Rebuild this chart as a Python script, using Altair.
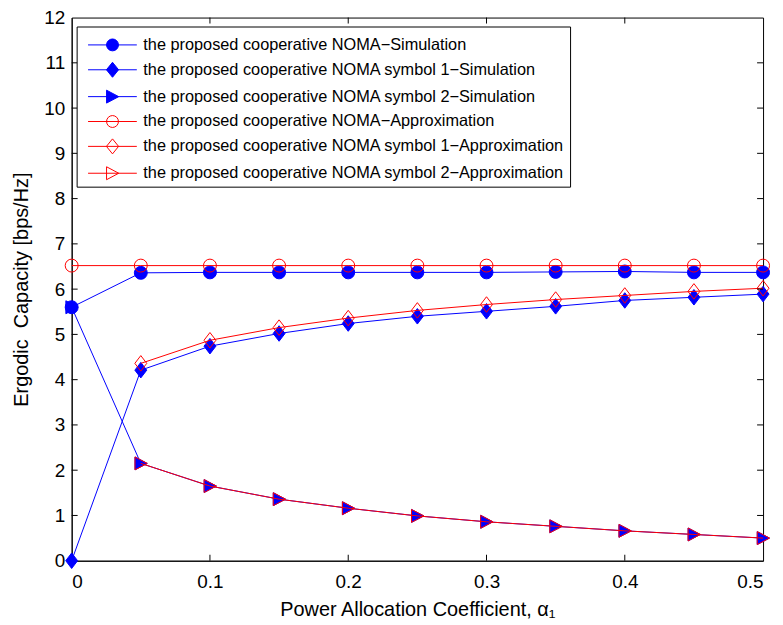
import altair as alt
import pandas as pd

# ---------------- data ----------------
alpha = [0, 0.05, 0.1, 0.15, 0.2, 0.25, 0.3, 0.35, 0.4, 0.45, 0.5]

total_sim = [5.60, 6.36, 6.37, 6.37, 6.37, 6.37, 6.37, 6.38, 6.39, 6.37, 6.37]
sym1_sim = [0.0, 4.21, 4.74, 5.02, 5.24, 5.40, 5.51, 5.62, 5.75, 5.82, 5.89]
sym2_sim = [5.60, 2.15, 1.65, 1.36, 1.16, 0.99, 0.86, 0.76, 0.66, 0.58, 0.50]
total_app = [6.52, 6.52, 6.52, 6.52, 6.52, 6.52, 6.52, 6.52, 6.52, 6.52, 6.52]
sym1_app = [None, 4.36, 4.87, 5.15, 5.36, 5.53, 5.66, 5.77, 5.86, 5.95, 6.02]
sym2_app = [None, 2.15, 1.65, 1.36, 1.16, 0.99, 0.86, 0.76, 0.66, 0.58, 0.50]

series_names = [
    "the proposed cooperative NOMA\u2212Simulation",
    "the proposed cooperative NOMA symbol 1\u2212Simulation",
    "the proposed cooperative NOMA symbol 2\u2212Simulation",
    "the proposed cooperative NOMA\u2212Approximation",
    "the proposed cooperative NOMA symbol 1\u2212Approximation",
    "the proposed cooperative NOMA symbol 2\u2212Approximation",
]
series_values = [total_sim, sym1_sim, sym2_sim, total_app, sym1_app, sym2_app]
series_colors = ["#0000ff", "#0000ff", "#0000ff", "#ff0000", "#ff0000", "#ff0000"]
series_fills = ["#0000ff", "#0000ff", "#0000ff", "transparent", "transparent", "transparent"]

x_ticks = [0, 0.1, 0.2, 0.3, 0.4, 0.5]
y_ticks = [0, 1, 2, 3, 4, 5, 6, 7, 8, 9, 10, 11, 12]
x_inner_ticks = [0.1, 0.2, 0.3, 0.4]
y_inner_ticks = [1, 2, 3, 4, 5, 6, 7, 8, 9, 10, 11]

# marker shapes (plot) and line+marker glyphs (legend)
plot_shapes = [
    "circle",
    "M0,-1.2L0.92,0L0,1.2L-0.92,0Z",
    "M-0.9,-1L1.0,0L-0.9,1Z",
    "circle",
    "M0,-1.2L0.92,0L0,1.2L-0.92,0Z",
    "M-0.9,-1L1.0,0L-0.9,1Z",
]
LINE = "M-0.54,0H3.23"
CIRC = "M1.81,0A0.46,0.46,0,1,1,0.89,0A0.46,0.46,0,1,1,1.81,0Z"
DIAM = "M1.35,-0.58L1.82,0L1.35,0.58L0.88,0Z"
TRI = "M0.89,-0.5L1.83,0L0.89,0.5Z"
legend_paths = [LINE + CIRC, LINE + DIAM, LINE + TRI, LINE + CIRC, LINE + DIAM, LINE + TRI]

rows = []
for name, vals in zip(series_names, series_values):
    for a, v in zip(alpha, vals):
        if v is not None:
            rows.append({"series": name, "alpha": a, "value": v})
df = pd.DataFrame(rows)

FONT = "Liberation Sans"
W, H = 695, 546

xscale = alt.Scale(domain=[0, 0.5], nice=False, zero=False)
yscale = alt.Scale(domain=[0, 12], nice=False)

x_axis = alt.Axis(values=x_ticks, format=".1~f", ticks=False, grid=False,
                  labelFontSize=19, labelPadding=12, labelFont=FONT,
                  title="Power Allocation Coefficient, \u03b1\u2081",
                  titleFontSize=20, titleFont=FONT, titleFontWeight="normal",
                  titlePadding=8, domainColor="black", labelColor="black",
                  titleColor="black")
y_axis = alt.Axis(values=y_ticks, format="d", ticks=False, grid=False,
                  labelFontSize=19, labelPadding=7, labelFont=FONT,
                  title="Ergodic\u00a0 Capacity [bps/Hz]",
                  titleFontSize=20, titleFont=FONT, titleFontWeight="normal",
                  titlePadding=12, domainColor="black", labelColor="black",
                  titleColor="black")
X = alt.X("alpha:Q", scale=xscale, axis=x_axis)
Y = alt.Y("value:Q", scale=yscale, axis=y_axis)

layers = []
for i, name in enumerate(series_names):
    base = alt.Chart(df).transform_filter(alt.datum.series == name)
    c = series_colors[i]
    line = base.mark_line(color=c, strokeWidth=1).encode(x=X, y=Y)
    if i < 3:
        pts = base.mark_point(shape=plot_shapes[i], size=169, filled=True, fill=c,
                              stroke=c, strokeWidth=1, opacity=1).encode(x=X, y=Y)
    else:
        pts = base.mark_point(shape=plot_shapes[i], size=169, filled=False,
                              stroke=c, strokeWidth=1, opacity=1).encode(x=X, y=Y)
    layers += [line, pts]

# inner ticks (MATLAB style, on all four sides)
ydf = pd.DataFrame({"value": y_inner_ticks})
xdf = pd.DataFrame({"alpha": x_inner_ticks})
layers.append(alt.Chart(ydf).mark_rule(color="black", strokeWidth=1).encode(
    y=Y, x=alt.value(0), x2=alt.value(6)))
layers.append(alt.Chart(ydf).mark_rule(color="black", strokeWidth=1).encode(
    y=Y, x=alt.value(W - 6), x2=alt.value(W)))
layers.append(alt.Chart(xdf).mark_rule(color="black", strokeWidth=1).encode(
    x=X, y=alt.value(H - 6), y2=alt.value(H)))
layers.append(alt.Chart(xdf).mark_rule(color="black", strokeWidth=1).encode(
    x=X, y=alt.value(0), y2=alt.value(6)))

leg = alt.Legend(title=None, orient="none", legendX=5, legendY=9,
                 strokeColor="black", fillColor="white", padding=5, cornerRadius=0,
                 labelFont=FONT, labelFontSize=16.4, labelColor="black", labelLimit=0,
                 labelOffset=35, symbolSize=676, symbolStrokeWidth=1, rowPadding=3,
                 symbolOpacity=1)
legend_layer = alt.Chart(df).transform_filter("false").mark_point(
    filled=False, strokeWidth=1, opacity=1).encode(
    shape=alt.Shape("series:N", scale=alt.Scale(domain=series_names, range=legend_paths), legend=leg),
    color=alt.Color("series:N", scale=alt.Scale(domain=series_names, range=series_colors), legend=leg),
    fill=alt.Fill("series:N", scale=alt.Scale(domain=series_names, range=series_fills), legend=leg),
)
layers.append(legend_layer)

chart = alt.layer(*layers).properties(
    width=W, height=H,
    autosize=alt.AutoSizeParams(type="none"),
    padding={"left": 64, "top": 8, "right": 12, "bottom": 60},
    background="white",
).configure_view(stroke="black", strokeWidth=1).configure_axis(domainWidth=1)

chart.save("out.html", embed_options={"renderer": "svg", "actions": False})
